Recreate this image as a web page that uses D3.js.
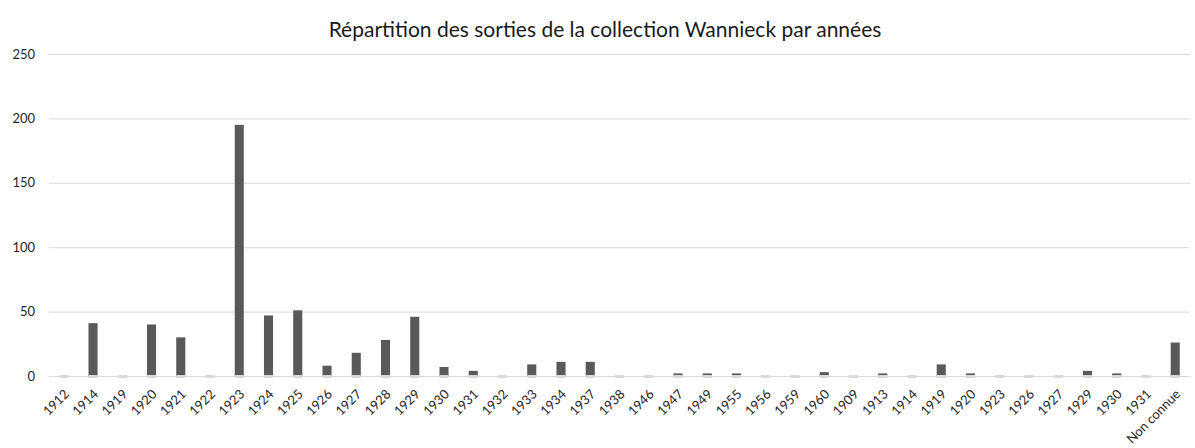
<!DOCTYPE html>
<html>
<head>
<meta charset="utf-8">
<script src="https://cdn.jsdelivr.net/npm/d3@7"></script>
<style>
  body { margin: 0; background: #fff; }
  text { font-family: Lato, "Open Sans", sans-serif; fill: #262626; }
</style>
</head>
<body>
<div class="chart"></div>
<script>
// data
const years = ['1912', '1914', '1919', '1920', '1921', '1922', '1923', '1924', '1925', '1926',
    '1927', '1928', '1929', '1930', '1931', '1932', '1933', '1934', '1937', '1938',
    '1946', '1947', '1949', '1955', '1956', '1959', '1960', '1909', '1913', '1914',
    '1919', '1920', '1923', '1926', '1927', '1929', '1930', '1931', 'Non connue']
const counts = [0, 41, 0, 40, 30, 0, 195, 47, 51, 8,
    18, 28, 46, 7, 4, 0, 9, 11, 11, 0,
    0, 2, 2, 2, 0, 0, 3, 0, 2, 0,
    9, 2, 0, 0, 0, 4, 2, 0, 26]
const yTicks = [0, 50, 100, 150, 200, 250]
const title = 'Répartition des sorties de la collection Wannieck par années'

const width = 1195
const height = 448
const margin = { top: 54, right: 5, bottom: 72, left: 49 }

const data = years.map((y, i) => ({ key: i, label: y, value: counts[i] }))

const svg = d3.select('.chart')
    .append('svg')
    .attr('width', width)
    .attr('height', height)

const x = d3.scaleBand()
    .domain(data.map(d => d.key))
    .range([margin.left, width - margin.right])
    .paddingInner(0.69)
    .paddingOuter(0.35)

const y = d3.scaleLinear()
    .domain([0, 250])
    .range([height - margin.bottom, margin.top])

// title
svg.append('text')
    .attr('x', 605)
    .attr('y', 37)
    .attr('text-anchor', 'middle')
    .style('font-size', '21px')
    .style('fill', '#1a1a1a')
    .text(title)

// gridlines + y labels
const yAxis = svg.append('g')
    .attr('transform', `translate(${margin.left},0)`)
    .call(d3.axisLeft(y).tickValues(yTicks).tickSize(-(width - margin.left - margin.right)).tickPadding(14))
yAxis.select('.domain').remove()
yAxis.selectAll('line').attr('stroke', '#d9d9d9')
yAxis.selectAll('text').attr('font-family', null).style('font-size', '13px').style('fill', '#262626')

// bars
svg.selectAll('.bar')
    .data(data)
    .join('rect')
    .attr('class', 'bar')
    .attr('x', d => x(d.key))
    .attr('width', x.bandwidth())
    .attr('y', d => y(d.value))
    .attr('height', d => y(0) - y(d.value))
    .attr('fill', '#595959')

// light stubs at the baseline
svg.selectAll('.stub')
    .data(data)
    .join('rect')
    .attr('class', 'stub')
    .attr('x', d => x(d.key))
    .attr('width', x.bandwidth())
    .attr('y', y(0) - 1)
    .attr('height', 3)
    .attr('fill', '#d9d9d9')

// x axis labels
const xAxis = svg.append('g')
    .attr('transform', `translate(0,${y(0)})`)
    .call(d3.axisBottom(x).tickFormat(k => data[k].label).tickSize(0))
xAxis.select('.domain').attr('stroke', '#d9d9d9')
xAxis.selectAll('text')
    .attr('font-family', null)
    .style('font-size', '13px')
    .style('fill', '#262626')
    .attr('text-anchor', 'end')
    .attr('dy', null)
    .attr('y', 0)
    .attr('transform', 'translate(6,19) rotate(-45)')
</script>
</body>
</html>
